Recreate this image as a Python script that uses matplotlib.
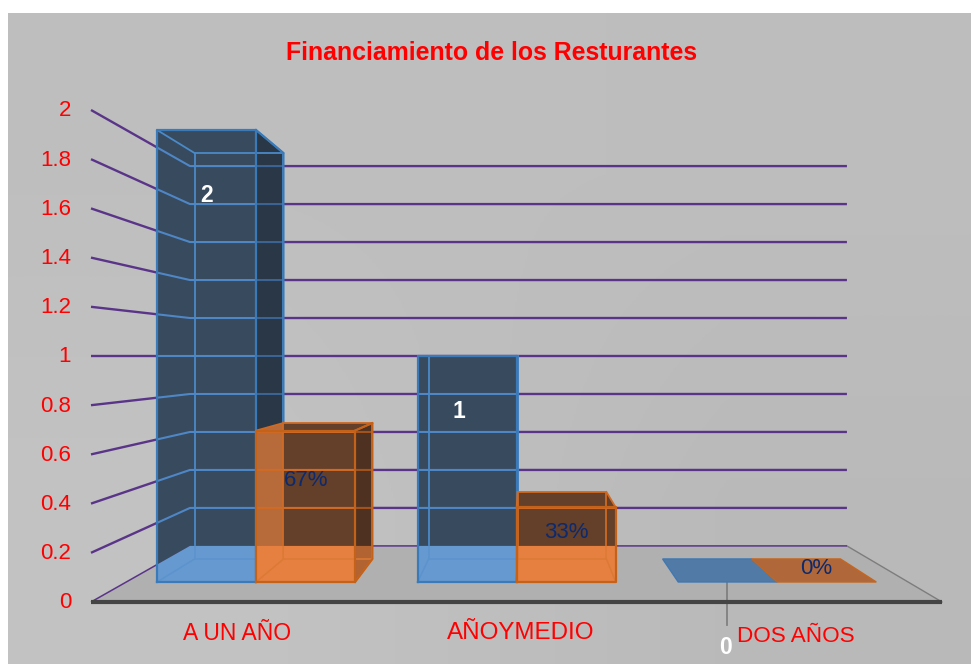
import numpy as np
import matplotlib
matplotlib.use("Agg")
import matplotlib.pyplot as plt
from matplotlib.patches import Polygon

plt.rcParams['font.family'] = ['Liberation Sans', 'DejaVu Sans']

# Datos
categories = ["A UN AÑO", "AÑOYMEDIO", "DOS AÑOS"]
blue_values = [2, 1, 0]
orange_values = [0.67, 0.33, 0]
blue_labels = ["2", "1", "0"]
orange_labels = ["67%", "33%", "0%"]
y_ticks = [0, 0.2, 0.4, 0.6, 0.8, 1, 1.2, 1.4, 1.6, 1.8, 2]
y_tick_labels = ["0", "0.2", "0.4", "0.6", "0.8", "1", "1.2", "1.4", "1.6", "1.8", "2"]

# Perspectiva de la caja 3D (pixeles de la figura)
VP_X, VP_Y = 525, 356
AX_L, AX_R, AX_BASE, UNIT = 91, 942, 602, 246
S_BACK, S_BAR_FRONT, S_BAR_BACK = 0.772, 0.9187, 0.825
GAP, BAR_W = 0.118, 0.38


def project(xf, v, s):
    fx = AX_L + xf * (AX_R - AX_L)
    fy = AX_BASE - v * UNIT
    return (VP_X + (fx - VP_X) * s, VP_Y + (fy - VP_Y) * s)


def bar_faces(cat, serie, v):
    x0 = (cat + GAP + serie * BAR_W) / len(categories)
    x1 = x0 + BAR_W / len(categories)
    p = project
    f = {}
    f['front'] = [p(x0, 0, S_BAR_FRONT), p(x1, 0, S_BAR_FRONT), p(x1, v, S_BAR_FRONT), p(x0, v, S_BAR_FRONT)]
    f['top'] = [p(x0, v, S_BAR_FRONT), p(x1, v, S_BAR_FRONT), p(x1, v, S_BAR_BACK), p(x0, v, S_BAR_BACK)]
    f['right'] = [p(x1, 0, S_BAR_FRONT), p(x1, 0, S_BAR_BACK), p(x1, v, S_BAR_BACK), p(x1, v, S_BAR_FRONT)]
    f['edges'] = [
        [p(x0, 0, S_BAR_BACK), p(x1, 0, S_BAR_BACK), p(x1, v, S_BAR_BACK), p(x0, v, S_BAR_BACK), p(x0, 0, S_BAR_BACK)],
        [p(x0, 0, S_BAR_FRONT), p(x0, 0, S_BAR_BACK)],
        [p(x1, 0, S_BAR_FRONT), p(x1, 0, S_BAR_BACK)],
        [p(x0, v, S_BAR_FRONT), p(x0, v, S_BAR_BACK)],
        [p(x1, v, S_BAR_FRONT), p(x1, v, S_BAR_BACK)],
    ]
    f['outline'] = f['front'] + [f['front'][0]]
    f['right_visible'] = f['right'][1][0] > f['right'][0][0]
    return f


fig = plt.figure(figsize=(9.71, 6.64), dpi=100, facecolor='white')
ax = fig.add_axes([0, 0, 1, 1])
ax.set_xlim(0, 971)
ax.set_ylim(664, 0)
ax.axis('off')

# Fondo
bg = np.array([[0xbe, 0xbd], [0xc2, 0xb9]]) / 255
ax.imshow(bg, cmap='gray', vmin=0, vmax=1, extent=(8, 971, 664, 13), interpolation='bilinear', aspect='auto', zorder=0)
ax.set_xlim(0, 971)
ax.set_ylim(664, 0)

floor_pts = [project(0, 0, 1), project(1, 0, 1), project(1, 0, S_BACK), project(0, 0, S_BACK)]
ax.add_patch(Polygon(floor_pts, facecolor='#b0b0b0', edgecolor='none', zorder=1))
ax.plot([floor_pts[1][0], floor_pts[2][0]], [floor_pts[1][1], floor_pts[2][1]], color='#7d7d7d', lw=1, zorder=1.5)

floor_clip = Polygon(floor_pts, transform=ax.transData)
wall_pts = [floor_pts[0], floor_pts[3], (971, floor_pts[3][1]), (971, 0), (0, 0), (0, floor_pts[0][1])]
wall_clip = Polygon(wall_pts, transform=ax.transData)

# Lineas de division
grid_lines = []
for t in y_ticks:
    a = project(0, t, 1)
    b = project(0, t, S_BACK)
    c = project(1, t, S_BACK)
    lw = 1.1 if t == 0 else 1.7
    ax.plot([a[0], b[0], c[0]], [a[1], b[1], c[1]], color='#5a3488', lw=lw, solid_capstyle='butt', zorder=2)
    if t > 0:
        grid_lines.append(([a[0], b[0], c[0]], [a[1], b[1], c[1]]))


def draw_grid_inside(face, color, z, lw=1.5):
    clip = Polygon(face, transform=ax.transData)
    for gx, gy in grid_lines:
        ln, = ax.plot(gx, gy, color=color, lw=lw, zorder=z, solid_capstyle='butt')
        ln.set_clip_path(clip)


def fill_face(face, color, clip, z):
    pat = Polygon(face, facecolor=color, edgecolor='none', zorder=z)
    ax.add_patch(pat)
    pat.set_clip_path(clip)


def draw_edges(faces, wall_col, floor_col, z):
    # aristas interiores: fuertes sobre la pared, suaves sobre el suelo
    for e in faces['edges']:
        xs, ys = zip(*e)
        ln, = ax.plot(xs, ys, color=wall_col, lw=1.3, zorder=z)
        ln.set_clip_path(wall_clip)
        ln, = ax.plot(xs, ys, color=floor_col, lw=1.1, zorder=z)
        ln.set_clip_path(floor_clip)


def draw_outline(faces, color, z):
    xs, ys = zip(*faces['outline'])
    ax.plot(xs, ys, color=color, lw=1.6, zorder=z)
    if faces['right_visible']:
        xs, ys = zip(*faces['right'])
        ax.plot(xs, ys, color=color, lw=1.5, zorder=z)


def draw_bar(faces, dark, light, z):
    names = ['front', 'top'] + (['right'] if faces['right_visible'] else [])
    for n in names:
        fill_face(faces[n], dark, wall_clip, z)
        fill_face(faces[n], light, floor_clip, z + 0.01)
    return names


# Barras
blue_faces = [bar_faces(i, 0, v) for i, v in enumerate(blue_values)]
orange_faces = [bar_faces(i, 1, v) for i, v in enumerate(orange_values)]

for faces, v in zip(blue_faces, blue_values):
    if v == 0:
        ax.add_patch(Polygon(faces['top'], facecolor='#517ba6', edgecolor='#3f78b2', lw=1, zorder=3))
        continue
    names = draw_bar(faces, '#374a5e', '#6699cf', 3)
    for n in names:
        draw_grid_inside(faces[n], '#4f86c6', 3.1)
    if faces['right_visible']:
        ax.add_patch(Polygon(faces['right'], facecolor='black', alpha=0.25, edgecolor='none', zorder=3.2))
    draw_edges(faces, '#4a8ac9', '#5b93cd', 3.3)
    draw_outline(faces, '#3a7ab8', 3.4)

for i, (faces, v) in enumerate(zip(orange_faces, orange_values)):
    if v == 0:
        ax.add_patch(Polygon(faces['top'], facecolor='#b0683a', edgecolor='#c4661f', lw=1, zorder=4))
        continue
    names = draw_bar(faces, '#643f29', '#e58041', 4)
    # naranja mas claro donde pasa por delante del lateral azul
    if blue_faces[i]['right_visible']:
        for n in ['front', 'top']:
            fc = Polygon(faces[n], transform=ax.transData)
            pat = Polygon(blue_faces[i]['right'], facecolor='#b86b3a', edgecolor='none', zorder=4.05)
            ax.add_patch(pat)
            pat.set_clip_path(fc)
        fill_face(blue_faces[i]['right'], '#e58041', floor_clip, 4.06)
    for n in names:
        draw_grid_inside(faces[n], '#d06a25', 4.1)
    if faces['right_visible']:
        ax.add_patch(Polygon(faces['right'], facecolor='black', alpha=0.22, edgecolor='none', zorder=4.2))
    draw_edges(faces, '#cf6a24', '#dc7a35', 4.3)
    draw_outline(faces, '#c4621a', 4.4)

# Eje frontal
ax.plot([AX_L, AX_R], [AX_BASE, AX_BASE], color='#444444', lw=3, solid_capstyle='butt', zorder=5)

# Textos
for t, lab in zip(y_ticks, y_tick_labels):
    ax.text(71, project(0, t, 1)[1] + 1, lab, color='#ff0000', fontsize=16, ha='right', va='center', zorder=6)

ax.text(492, 53, "Financiamiento de los Resturantes", color='#ff0000', fontsize=17.9, fontweight='bold',
        ha='center', va='center', zorder=6)

cat_pos = [(237, 633), (521, 633), (796, 636)]
cat_sizes = [16.5, 17.4, 16.2]
for (x, y), lab, fs in zip(cat_pos, categories, cat_sizes):
    ax.text(x, y, lab, color='#ff0000', fontsize=fs, ha='center', va='center', zorder=6)

blue_label_pos = [(207, 195), (459, 411), (726, 647)]
for (x, y), lab in zip(blue_label_pos, blue_labels):
    ax.text(x, y, lab, color='white', fontsize=16.5, fontweight='bold', ha='center', va='center', zorder=6)

orange_label_pos = [(306, 480), (566, 532), (816, 569)]
for (x, y), lab in zip(orange_label_pos, orange_labels):
    ax.text(x, y, lab, color='#0b2a70', fontsize=16, ha='center', va='center', zorder=6)

# linea guia de la etiqueta 0
ax.plot([727, 727], [582, 625], color='#808080', lw=1.3, zorder=2.5)

fig.savefig("out.png", dpi=100)
